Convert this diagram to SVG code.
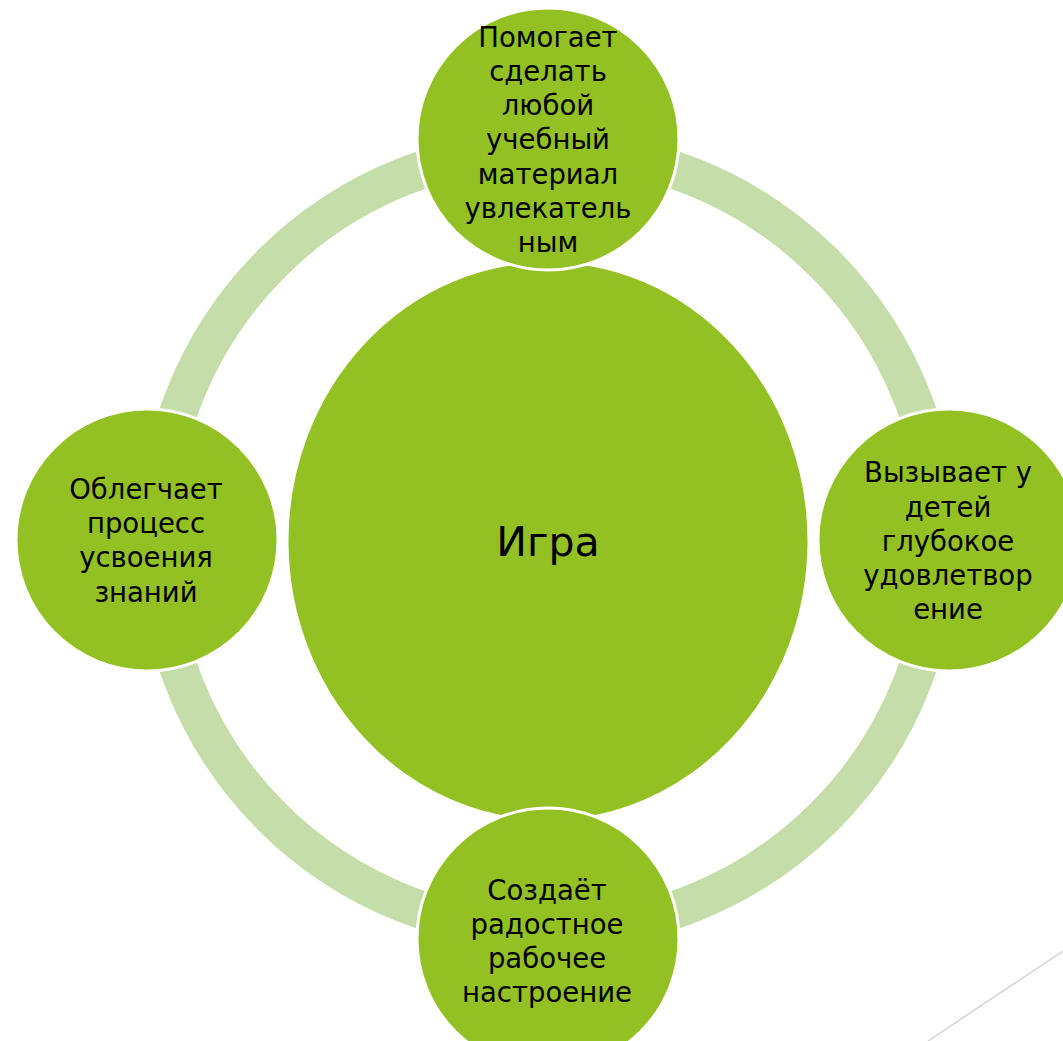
<svg xmlns="http://www.w3.org/2000/svg" width="1063" height="1041" viewBox="0 0 1063 1041">
<style>
.node{fill:#93c123;stroke:#ffffff;stroke-width:3}
.t{font-family:"DejaVu Sans","Noto Sans",sans-serif;font-size:27.5px;fill:#000;text-anchor:middle}
.big{font-family:"DejaVu Sans","Noto Sans",sans-serif;font-size:41px;fill:#000;text-anchor:middle}
</style>
<rect width="1063" height="1041" fill="#ffffff"/>
<g id="connectors">
<circle cx="548" cy="540" r="391" fill="none" stroke="#c5dea9" stroke-width="38"/>
</g>
<g id="center">
<ellipse class="node" cx="548" cy="541" rx="261" ry="280"/>
<text class="big" x="548" y="556">Игра</text>
</g>
<g id="node-top">
<circle class="node" cx="548" cy="139" r="131"/>
<text class="t" x="548" y="47">Помогает</text>
<text class="t" x="548" y="81">сделать</text>
<text class="t" x="548" y="115">любой</text>
<text class="t" x="548" y="149">учебный</text>
<text class="t" x="548" y="184">материал</text>
<text class="t" x="548" y="218">увлекатель</text>
<text class="t" x="548" y="252">ным</text>
</g>
<g id="node-right">
<circle class="node" cx="949" cy="540" r="131"/>
<text class="t" x="948" y="482">Вызывает у</text>
<text class="t" x="948" y="517">детей</text>
<text class="t" x="948" y="551">глубокое</text>
<text class="t" x="948" y="585">удовлетвор</text>
<text class="t" x="948" y="619">ение</text>
</g>
<g id="node-bottom">
<circle class="node" cx="548" cy="939" r="131"/>
<text class="t" x="547" y="900">Создаёт</text>
<text class="t" x="547" y="934">радостное</text>
<text class="t" x="547" y="968">рабочее</text>
<text class="t" x="547" y="1002">настроение</text>
</g>
<g id="node-left">
<circle class="node" cx="147" cy="540" r="131"/>
<text class="t" x="146" y="499">Облегчает</text>
<text class="t" x="146" y="533">процесс</text>
<text class="t" x="146" y="567">усвоения</text>
<text class="t" x="146" y="602">знаний</text>
</g>
<line x1="928" y1="1041" x2="1063" y2="951" stroke="#d4d4d4" stroke-width="1.5"/>
</svg>
